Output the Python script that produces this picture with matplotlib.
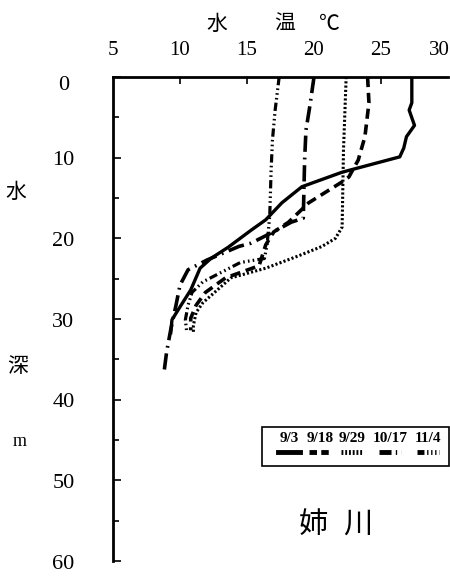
import matplotlib
matplotlib.use("Agg")
import matplotlib.pyplot as plt
from matplotlib.lines import Line2D
from matplotlib.patches import Rectangle
from matplotlib.ticker import MultipleLocator

plt.rcParams['font.family'] = ['Liberation Serif', 'Noto Sans CJK JP', 'DejaVu Sans']

# Water temperature profiles (deg C) against depth (m), Ane River
dates = ["9/3", "9/18", "9/29", "10/17", "11/4"]

temp_0903 = [27.3, 27.3, 27.1, 27.5, 26.9, 26.7, 26.4, 22.1, 19.1, 17.6, 16.4, 15.3, 13.6, 12.3, 11.5, 10.8, 10.0, 9.4, 9.3]
depth_0903 = [0, 3.2, 4.1, 6.0, 7.4, 8.8, 9.9, 11.8, 13.6, 15.6, 17.7, 19.0, 21.1, 22.5, 23.7, 26.4, 28.5, 30.1, 31.9]

temp_0918 = [24.0, 24.1, 23.8, 23.3, 22.6, 22.1, 19.6, 18.1, 17.0, 16.4, 15.9, 13.4, 11.9, 11.2, 10.8, 10.8]
depth_0918 = [0, 3.2, 7.4, 10.3, 12.4, 13.0, 15.6, 18.0, 19.2, 20.8, 23.4, 24.9, 26.7, 28.3, 29.9, 31.4]

temp_0929 = [22.4, 22.2, 22.1, 21.6, 20.6, 18.8, 16.4, 13.8, 11.7, 11.2, 11.0, 11.0]
depth_0929 = [0, 9.1, 18.6, 20.0, 21.0, 22.2, 23.7, 24.9, 28.0, 29.2, 30.8, 31.6]

temp_1017 = [20.0, 19.7, 19.4, 19.3, 19.2, 18.3, 17.2, 15.3, 14.4, 12.0, 10.6, 10.0, 9.7, 9.3, 9.0, 8.8]
depth_1017 = [0, 3.5, 6.6, 10.3, 17.5, 18.0, 19.0, 20.6, 21.0, 22.7, 23.9, 25.8, 28.3, 31.4, 34.1, 36.7]

temp_1104 = [17.4, 17.1, 16.9, 16.8, 16.7, 16.5, 16.3, 14.5, 11.7, 10.9, 10.6, 10.4, 10.5]
depth_1104 = [0, 4.1, 7.8, 11.5, 17.1, 20.8, 22.5, 23.0, 25.4, 26.7, 28.3, 30.1, 31.6]

x_values = [5, 10, 15, 20, 25, 30]
y_values = [0, 10, 20, 30, 40, 50, 60]

styles = [
    dict(linestyle="-", lw=2.4),
    dict(linestyle=(0, (2.8, 1.6)), lw=2.6),
    dict(linestyle=(0, (0.7, 0.7)), lw=2.2),
    dict(linestyle=(0, (4.5, 1.6, 0.5, 1.6)), lw=2.6),
    dict(linestyle=(0, (2.6, 1.0, 0.5, 1.0, 0.5, 1.0, 0.5, 1.0)), lw=2.3),
]
series = [(temp_0903, depth_0903), (temp_0918, depth_0918), (temp_0929, depth_0929),
          (temp_1017, depth_1017), (temp_1104, depth_1104)]

W, H = 450, 576
fig = plt.figure(figsize=(W / 100, H / 100), dpi=100)


def px(x, y):
    return x / W, 1 - y / H


ax = fig.add_axes([113 / W, 15 / H, 335 / W, 484 / H])
for (t, d), st in zip(series, styles):
    ax.plot(t, d, color="black", solid_capstyle="butt", dash_capstyle="butt", **st)

ax.set_xlim(5, 30)
ax.set_ylim(60, 0)
ax.spines["right"].set_visible(False)
ax.spines["bottom"].set_visible(False)
ax.spines["top"].set_linewidth(2.0)
ax.spines["left"].set_linewidth(2.0)

ax.xaxis.tick_top()
ax.set_xticks([10, 15, 20, 25])
ax.set_xticklabels([])
ax.tick_params(axis="x", direction="in", length=5, width=1.2)
ax.yaxis.set_major_locator(MultipleLocator(10))
ax.yaxis.set_minor_locator(MultipleLocator(5))
ax.set_yticklabels([])
ax.tick_params(axis="y", which="major", direction="in", length=6, width=1.2)
ax.tick_params(axis="y", which="minor", direction="in", length=4, width=1.2)

# tick labels drawn as text so they can be centred like the printed scale
for v in x_values:
    if v == 30:
        ax.text(30.1, -2.1, str(v), ha="right", va="bottom", fontsize=15, clip_on=False)
    else:
        ax.text(v, -2.1, str(v), ha="center", va="bottom", fontsize=15, clip_on=False)
for v in y_values:
    off = 1.0 if v == 0 else 0.4
    ax.text(1.3, v + off, str(v), ha="center", va="center", fontsize=16, clip_on=False)

cjk = ['Noto Sans CJK JP', 'DejaVu Sans']
fig.text(*px(217, 24), "水", family=cjk, fontsize=15, ha="center", va="center")
fig.text(*px(285, 24), "温", family=cjk, fontsize=15, ha="center", va="center")
fig.text(*px(329, 24), "℃", family=cjk, fontsize=15, ha="center", va="center")
fig.text(*px(16, 192), "水", family=cjk, fontsize=15, ha="center", va="center")
fig.text(*px(18, 366), "深", family=cjk, fontsize=15, ha="center", va="center")
fig.text(*px(20, 442), "m", fontsize=13, ha="center", va="center")
fig.text(*px(313, 525), "姉", family=cjk, fontsize=21, ha="center", va="center")
fig.text(*px(358, 525), "川", family=cjk, fontsize=21, ha="center", va="center")

# legend box with labels and line samples
x0, y0 = px(262, 466)
x1, y1 = px(449, 427)
fig.add_artist(Rectangle((x0, y0), x1 - x0, y1 - y0, transform=fig.transFigure,
                         fill=False, lw=1.2, edgecolor="black"))
label_x = [289, 320, 352, 390, 428]
for lx, lab, st in zip(label_x, dates, styles):
    fig.text(*px(lx, 438), lab, fontsize=11, ha="center", va="center", weight="bold")
    xa, ya = px(lx - 11, 452)
    xb, _ = px(lx + 11, 452)
    ls = "-" if st["linestyle"] == "-" else (0, tuple(v * 0.55 for v in st["linestyle"][1]))
    fig.add_artist(Line2D([xa, xb], [ya, ya], transform=fig.transFigure, color="black",
                          lw=3.5, linestyle=ls, dash_capstyle="butt"))

fig.savefig("out.png", dpi=100, facecolor="white")
